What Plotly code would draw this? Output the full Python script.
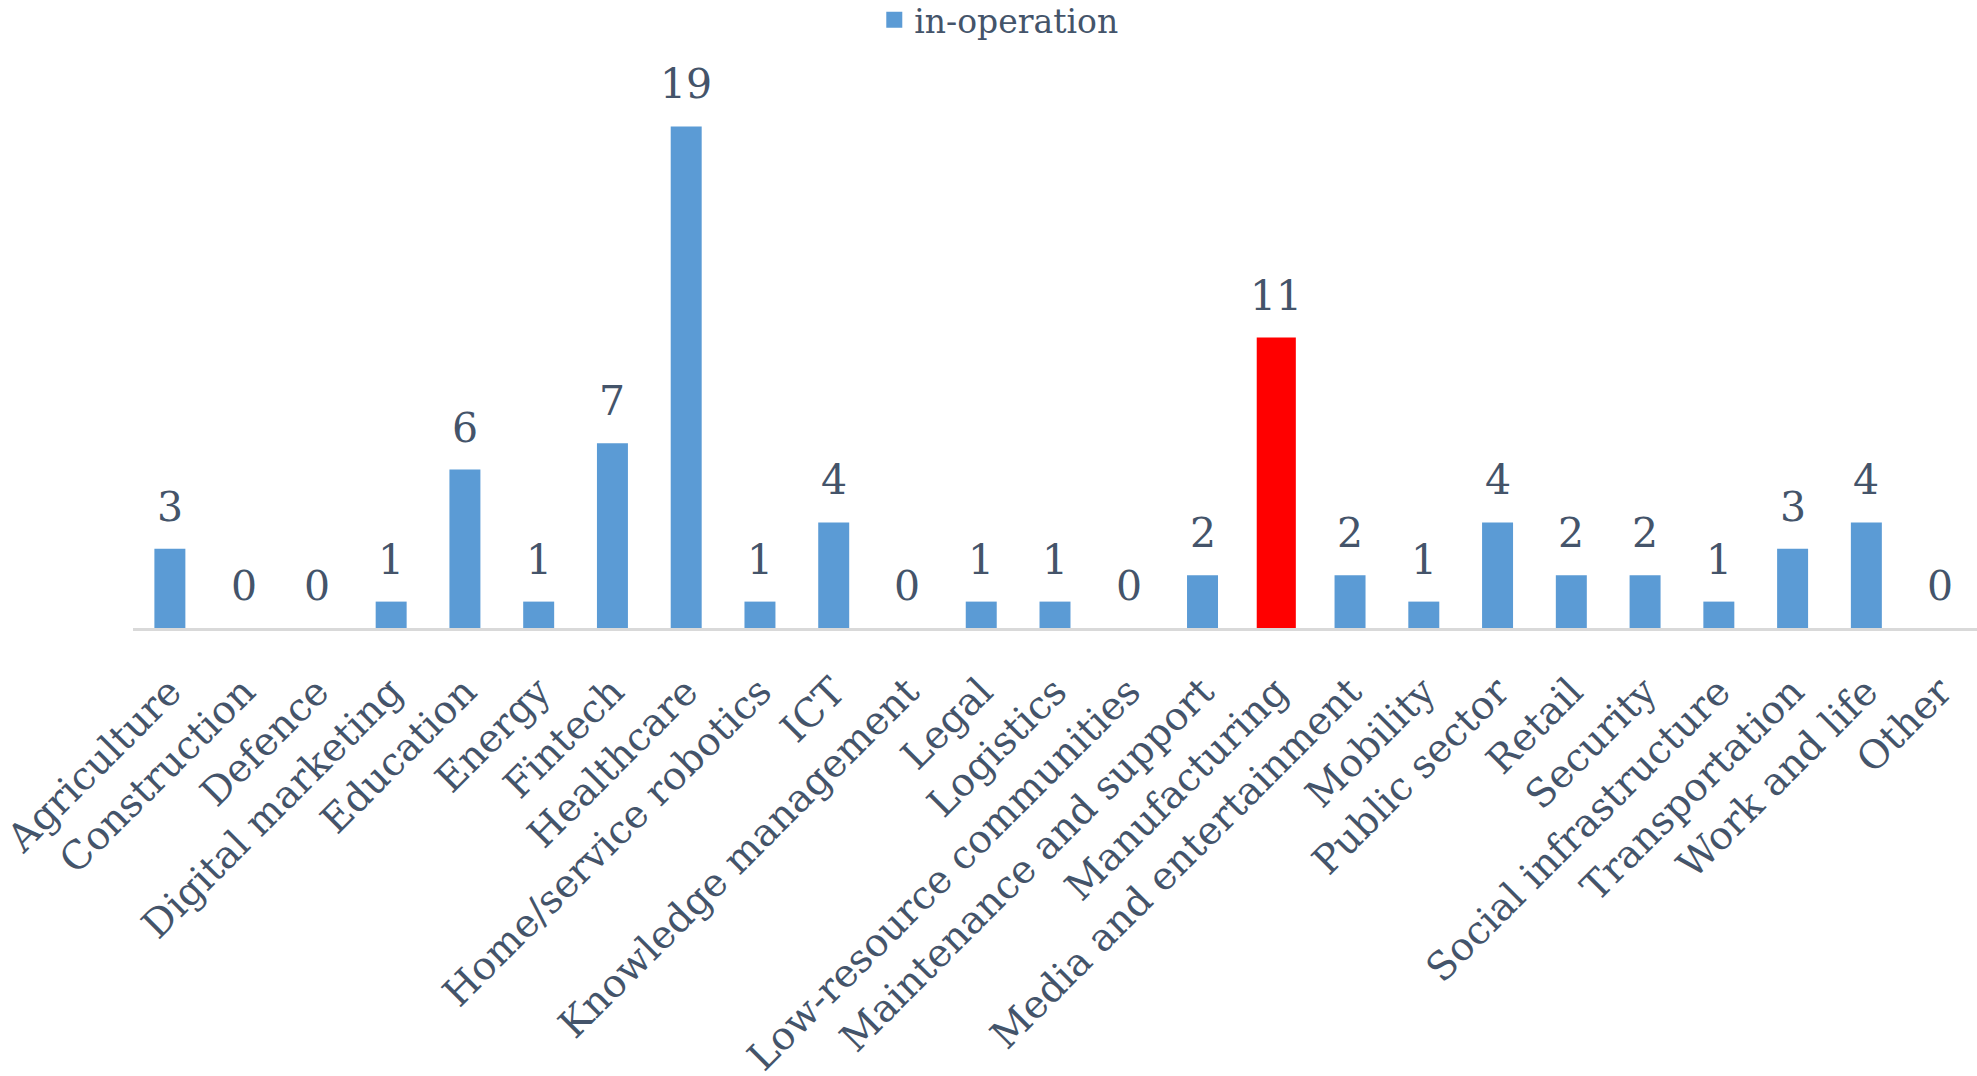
import plotly.graph_objects as go

categories = ["Agriculture", "Construction", "Defence", "Digital marketing", "Education",
              "Energy", "Fintech", "Healthcare", "Home/service robotics", "ICT",
              "Knowledge management", "Legal", "Logistics", "Low-resource communities",
              "Maintenance and support", "Manufacturing", "Media and entertainment",
              "Mobility", "Public sector", "Retail", "Security", "Social infrastructure",
              "Transportation", "Work and life", "Other"]
in_operation = [3, 0, 0, 1, 6, 1, 7, 19, 1, 4, 0, 1, 1, 0, 2, 11, 2, 1, 4, 2, 2, 1, 3, 4, 0]
highlight = "Manufacturing"
series_name = "in-operation"

BLUE = "#5b9bd5"
RED = "#ff0000"
TXT = "#44546a"
FONT = "DejaVu Serif"

colors = [RED if c == highlight else BLUE for c in categories]
widths = [0.53 if c == highlight else 0.42 for c in categories]

fig = go.Figure()
fig.add_trace(go.Bar(
    x=categories, y=in_operation, marker=dict(color=colors, line=dict(width=0)),
    width=widths, showlegend=False, name=series_name,
))
# legend entry with a larger square swatch
fig.add_trace(go.Scatter(
    x=[None], y=[None], mode="markers", name=series_name,
    marker=dict(symbol="square", size=22, color=BLUE),
))

for c, v in zip(categories, in_operation):
    fig.add_annotation(x=c, y=v, text=str(v), showarrow=False, yanchor="bottom",
                       yshift=16, font=dict(family=FONT, size=41, color=TXT))

fig.update_layout(
    width=1977, height=1076,
    margin=dict(l=133, r=0, t=100, b=448, autoexpand=False),
    paper_bgcolor="white", plot_bgcolor="white",
    font=dict(family=FONT, color=TXT),
    showlegend=True,
    legend=dict(orientation="h", x=0.402, xanchor="left", y=1.205, yanchor="top",
                font=dict(family=FONT, size=33, color=TXT), bgcolor="rgba(0,0,0,0)",
                itemwidth=30),
)
fig.update_xaxes(
    type="category", range=[-0.5, len(categories) - 0.5],
    showline=True, linecolor="#d9d9d9", linewidth=3, showgrid=False, zeroline=False,
    ticks="", tickangle=-45, automargin=False, ticklabelstandoff=22,
    tickfont=dict(family=FONT, size=39, color=TXT),
)
fig.update_yaxes(range=[0, 20], visible=False, showgrid=False, zeroline=False)

fig.write_html("out.html")
